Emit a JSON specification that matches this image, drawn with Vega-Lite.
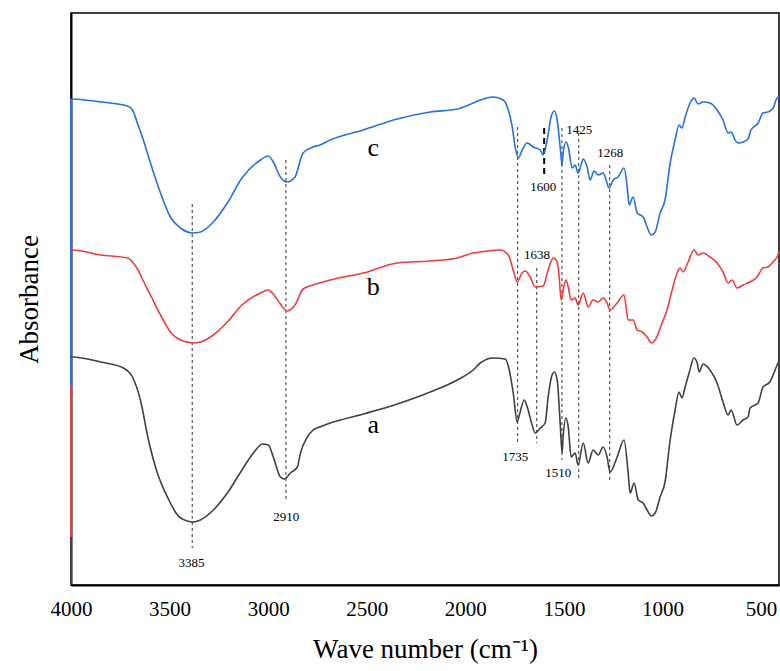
{
  "$schema": "https://vega.github.io/schema/vega-lite/v6.json",
  "width": 708,
  "height": 572,
  "autosize": {"type": "none"},
  "padding": {"left": 71, "top": 13, "right": 1, "bottom": 86},
  "config": {
    "view": {"stroke": "black", "strokeWidth": 1.5},
    "font": "Liberation Serif",
    "axis": {"labelFont": "Liberation Serif", "titleFont": "Liberation Serif", "titleFontWeight": "normal", "grid": false, "labelColor": "black", "titleColor": "black"}
  },
  "datasets": {
    "spectra": [
      {"s":"c","w":4000,"v":486},{"s":"c","w":3994,"v":486},{"s":"c","w":3850,"v":483},{"s":"c","w":3714,"v":479},{"s":"c","w":3688,"v":475},{"s":"c","w":3660,"v":460},{"s":"c","w":3638,"v":448},{"s":"c","w":3597,"v":422},{"s":"c","w":3546,"v":392},{"s":"c","w":3496,"v":368},{"s":"c","w":3445,"v":357},{"s":"c","w":3380,"v":352},{"s":"c","w":3344,"v":353},{"s":"c","w":3278,"v":363},{"s":"c","w":3207,"v":382},{"s":"c","w":3133,"v":407},{"s":"c","w":3039,"v":425},{"s":"c","w":2999,"v":429},{"s":"c","w":2974,"v":423},{"s":"c","w":2938,"v":408},{"s":"c","w":2904,"v":403},{"s":"c","w":2864,"v":408},{"s":"c","w":2823,"v":432},{"s":"c","w":2772,"v":438},{"s":"c","w":2738,"v":440},{"s":"c","w":2685,"v":445},{"s":"c","w":2517,"v":455},{"s":"c","w":2345,"v":466},{"s":"c","w":2178,"v":473},{"s":"c","w":2041,"v":476},{"s":"c","w":1960,"v":482},{"s":"c","w":1924,"v":485},{"s":"c","w":1858,"v":488},{"s":"c","w":1808,"v":485},{"s":"c","w":1782,"v":475},{"s":"c","w":1762,"v":458},{"s":"c","w":1747,"v":438},{"s":"c","w":1731,"v":427},{"s":"c","w":1712,"v":435},{"s":"c","w":1686,"v":442},{"s":"c","w":1656,"v":438},{"s":"c","w":1620,"v":435},{"s":"c","w":1605,"v":430},{"s":"c","w":1585,"v":445},{"s":"c","w":1565,"v":468},{"s":"c","w":1549,"v":474},{"s":"c","w":1534,"v":465},{"s":"c","w":1519,"v":438},{"s":"c","w":1509,"v":420},{"s":"c","w":1504,"v":432},{"s":"c","w":1489,"v":443},{"s":"c","w":1478,"v":438},{"s":"c","w":1458,"v":417},{"s":"c","w":1443,"v":420},{"s":"c","w":1428,"v":412},{"s":"c","w":1413,"v":420},{"s":"c","w":1402,"v":426},{"s":"c","w":1382,"v":418},{"s":"c","w":1367,"v":405},{"s":"c","w":1347,"v":414},{"s":"c","w":1326,"v":410},{"s":"c","w":1301,"v":412},{"s":"c","w":1286,"v":405},{"s":"c","w":1271,"v":397},{"s":"c","w":1250,"v":405},{"s":"c","w":1225,"v":408},{"s":"c","w":1195,"v":417},{"s":"c","w":1179,"v":398},{"s":"c","w":1169,"v":380},{"s":"c","w":1149,"v":388},{"s":"c","w":1128,"v":372},{"s":"c","w":1113,"v":370},{"s":"c","w":1098,"v":368},{"s":"c","w":1078,"v":358},{"s":"c","w":1057,"v":350},{"s":"c","w":1037,"v":353},{"s":"c","w":1012,"v":372},{"s":"c","w":987,"v":385},{"s":"c","w":961,"v":422},{"s":"c","w":936,"v":445},{"s":"c","w":916,"v":460},{"s":"c","w":901,"v":457},{"s":"c","w":885,"v":468},{"s":"c","w":860,"v":482},{"s":"c","w":840,"v":487},{"s":"c","w":819,"v":481},{"s":"c","w":794,"v":483},{"s":"c","w":759,"v":482},{"s":"c","w":723,"v":475},{"s":"c","w":693,"v":465},{"s":"c","w":667,"v":452},{"s":"c","w":652,"v":453},{"s":"c","w":632,"v":445},{"s":"c","w":617,"v":442},{"s":"c","w":591,"v":443},{"s":"c","w":566,"v":446},{"s":"c","w":551,"v":455},{"s":"c","w":515,"v":462},{"s":"c","w":490,"v":472},{"s":"c","w":465,"v":473},{"s":"c","w":439,"v":477},{"s":"c","w":419,"v":487},{"s":"c","w":409,"v":488},
      {"s":"b","w":4000,"v":335},{"s":"b","w":3992,"v":335},{"s":"b","w":3850,"v":330},{"s":"b","w":3714,"v":327},{"s":"b","w":3688,"v":323},{"s":"b","w":3660,"v":315},{"s":"b","w":3638,"v":306},{"s":"b","w":3597,"v":290},{"s":"b","w":3546,"v":270},{"s":"b","w":3496,"v":253},{"s":"b","w":3445,"v":245},{"s":"b","w":3380,"v":242},{"s":"b","w":3344,"v":243},{"s":"b","w":3278,"v":250},{"s":"b","w":3207,"v":263},{"s":"b","w":3133,"v":280},{"s":"b","w":3039,"v":292},{"s":"b","w":2999,"v":295},{"s":"b","w":2974,"v":291},{"s":"b","w":2938,"v":281},{"s":"b","w":2904,"v":274},{"s":"b","w":2864,"v":280},{"s":"b","w":2823,"v":296},{"s":"b","w":2772,"v":300},{"s":"b","w":2738,"v":302},{"s":"b","w":2685,"v":305},{"s":"b","w":2517,"v":312},{"s":"b","w":2345,"v":322},{"s":"b","w":2178,"v":324},{"s":"b","w":2041,"v":327},{"s":"b","w":1960,"v":332},{"s":"b","w":1924,"v":333},{"s":"b","w":1823,"v":335},{"s":"b","w":1782,"v":330},{"s":"b","w":1757,"v":315},{"s":"b","w":1737,"v":303},{"s":"b","w":1712,"v":312},{"s":"b","w":1696,"v":314},{"s":"b","w":1671,"v":308},{"s":"b","w":1646,"v":298},{"s":"b","w":1605,"v":299},{"s":"b","w":1580,"v":315},{"s":"b","w":1554,"v":327},{"s":"b","w":1534,"v":323},{"s":"b","w":1524,"v":308},{"s":"b","w":1514,"v":285},{"s":"b","w":1504,"v":295},{"s":"b","w":1489,"v":305},{"s":"b","w":1478,"v":298},{"s":"b","w":1463,"v":285},{"s":"b","w":1443,"v":287},{"s":"b","w":1428,"v":280},{"s":"b","w":1402,"v":292},{"s":"b","w":1377,"v":278},{"s":"b","w":1352,"v":285},{"s":"b","w":1326,"v":283},{"s":"b","w":1301,"v":287},{"s":"b","w":1281,"v":282},{"s":"b","w":1266,"v":275},{"s":"b","w":1230,"v":282},{"s":"b","w":1195,"v":290},{"s":"b","w":1174,"v":265},{"s":"b","w":1149,"v":265},{"s":"b","w":1128,"v":255},{"s":"b","w":1103,"v":253},{"s":"b","w":1078,"v":248},{"s":"b","w":1057,"v":242},{"s":"b","w":1037,"v":245},{"s":"b","w":1002,"v":262},{"s":"b","w":977,"v":275},{"s":"b","w":951,"v":295},{"s":"b","w":926,"v":312},{"s":"b","w":911,"v":317},{"s":"b","w":895,"v":313},{"s":"b","w":870,"v":323},{"s":"b","w":840,"v":335},{"s":"b","w":819,"v":330},{"s":"b","w":794,"v":332},{"s":"b","w":759,"v":328},{"s":"b","w":723,"v":322},{"s":"b","w":693,"v":313},{"s":"b","w":667,"v":302},{"s":"b","w":647,"v":305},{"s":"b","w":622,"v":297},{"s":"b","w":591,"v":300},{"s":"b","w":556,"v":303},{"s":"b","w":520,"v":308},{"s":"b","w":490,"v":317},{"s":"b","w":465,"v":318},{"s":"b","w":439,"v":323},{"s":"b","w":414,"v":330},{"s":"b","w":409,"v":333},
      {"s":"a","w":4000,"v":228},{"s":"a","w":3992,"v":228},{"s":"a","w":3850,"v":223},{"s":"a","w":3734,"v":217},{"s":"a","w":3688,"v":208},{"s":"a","w":3648,"v":185},{"s":"a","w":3607,"v":145},{"s":"a","w":3562,"v":112},{"s":"a","w":3511,"v":88},{"s":"a","w":3460,"v":70},{"s":"a","w":3411,"v":64},{"s":"a","w":3379,"v":63},{"s":"a","w":3344,"v":65},{"s":"a","w":3278,"v":75},{"s":"a","w":3207,"v":92},{"s":"a","w":3133,"v":115},{"s":"a","w":3075,"v":132},{"s":"a","w":3029,"v":141},{"s":"a","w":2999,"v":140},{"s":"a","w":2974,"v":128},{"s":"a","w":2938,"v":108},{"s":"a","w":2918,"v":106},{"s":"a","w":2887,"v":112},{"s":"a","w":2852,"v":118},{"s":"a","w":2836,"v":132},{"s":"a","w":2801,"v":148},{"s":"a","w":2772,"v":155},{"s":"a","w":2738,"v":158},{"s":"a","w":2685,"v":162},{"s":"a","w":2517,"v":171},{"s":"a","w":2345,"v":181},{"s":"a","w":2178,"v":193},{"s":"a","w":2041,"v":205},{"s":"a","w":1960,"v":215},{"s":"a","w":1924,"v":222},{"s":"a","w":1858,"v":227},{"s":"a","w":1798,"v":226},{"s":"a","w":1777,"v":215},{"s":"a","w":1757,"v":192},{"s":"a","w":1737,"v":163},{"s":"a","w":1726,"v":170},{"s":"a","w":1701,"v":185},{"s":"a","w":1686,"v":178},{"s":"a","w":1661,"v":160},{"s":"a","w":1646,"v":152},{"s":"a","w":1620,"v":157},{"s":"a","w":1595,"v":162},{"s":"a","w":1580,"v":188},{"s":"a","w":1560,"v":210},{"s":"a","w":1549,"v":213},{"s":"a","w":1534,"v":205},{"s":"a","w":1519,"v":162},{"s":"a","w":1509,"v":132},{"s":"a","w":1504,"v":148},{"s":"a","w":1489,"v":167},{"s":"a","w":1478,"v":158},{"s":"a","w":1463,"v":128},{"s":"a","w":1443,"v":132},{"s":"a","w":1428,"v":120},{"s":"a","w":1402,"v":142},{"s":"a","w":1377,"v":122},{"s":"a","w":1352,"v":135},{"s":"a","w":1326,"v":130},{"s":"a","w":1301,"v":138},{"s":"a","w":1281,"v":128},{"s":"a","w":1266,"v":113},{"s":"a","w":1230,"v":128},{"s":"a","w":1195,"v":145},{"s":"a","w":1174,"v":112},{"s":"a","w":1164,"v":92},{"s":"a","w":1144,"v":102},{"s":"a","w":1123,"v":85},{"s":"a","w":1098,"v":82},{"s":"a","w":1078,"v":75},{"s":"a","w":1057,"v":69},{"s":"a","w":1037,"v":72},{"s":"a","w":1012,"v":88},{"s":"a","w":987,"v":103},{"s":"a","w":961,"v":145},{"s":"a","w":936,"v":175},{"s":"a","w":916,"v":193},{"s":"a","w":901,"v":187},{"s":"a","w":885,"v":198},{"s":"a","w":865,"v":212},{"s":"a","w":840,"v":227},{"s":"a","w":824,"v":222},{"s":"a","w":814,"v":213},{"s":"a","w":794,"v":221},{"s":"a","w":759,"v":215},{"s":"a","w":723,"v":202},{"s":"a","w":693,"v":183},{"s":"a","w":667,"v":170},{"s":"a","w":652,"v":175},{"s":"a","w":622,"v":160},{"s":"a","w":591,"v":165},{"s":"a","w":566,"v":168},{"s":"a","w":556,"v":177},{"s":"a","w":515,"v":182},{"s":"a","w":490,"v":198},{"s":"a","w":455,"v":203},{"s":"a","w":439,"v":210},{"s":"a","w":414,"v":222},{"s":"a","w":409,"v":224}
    ],
    "drops": [
      {"s":"a","w":4000,"top":228,"bottom":0},
      {"s":"b","w":4000,"top":335,"bottom":48},
      {"s":"c","w":4000,"top":486,"bottom":200}
    ],
    "guides": [
      {"w":3385,"top":381,"bottom":37,"kind":"thin"},
      {"w":2910,"top":425,"bottom":85,"kind":"thin"},
      {"w":1735,"top":458,"bottom":142,"kind":"thin"},
      {"w":1638,"top":317,"bottom":142,"kind":"thin"},
      {"w":1510,"top":457,"bottom":125,"kind":"thin"},
      {"w":1425,"top":452,"bottom":105,"kind":"thin"},
      {"w":1268,"top":420,"bottom":103,"kind":"thin"},
      {"w":1600,"top":457,"bottom":408,"kind":"thick"}
    ],
    "peaks": [
      {"w":3389,"v":22,"t":"3385"},
      {"w":2908,"v":68,"t":"2910"},
      {"w":1747,"v":128,"t":"1735"},
      {"w":1636,"v":330,"t":"1638"},
      {"w":1605,"v":398,"t":"1600"},
      {"w":1529,"v":112,"t":"1510"},
      {"w":1422,"v":455,"t":"1425"},
      {"w":1265,"v":432,"t":"1268"}
    ],
    "names": [
      {"w":2467,"v":437,"t":"c"},
      {"w":2467,"v":298,"t":"b"},
      {"w":2467,"v":160,"t":"a"}
    ]
  },
  "layer": [
    {
      "data": {"name": "guides"},
      "transform": [{"filter": "datum.kind === 'thin'"}],
      "mark": {"type": "rule", "color": "#555555", "strokeWidth": 1.2, "strokeDash": [3, 3]},
      "encoding": {
        "x": {"field": "w", "type": "quantitative", "scale": {"domain": [409, 4000], "reverse": true, "nice": false, "zero": false}, "axis": {"title": "Wave number (cm⁻¹)", "values": [4000, 3500, 3000, 2500, 2000, 1500, 1000, 500], "format": "d", "ticks": false, "labelFontSize": 21, "labelPadding": 13, "titleFontSize": 27, "titlePadding": 17, "domainColor": "black", "domainWidth": 2, "labelFlush": false}},
        "y": {"field": "top", "type": "quantitative", "scale": {"domain": [0, 572], "nice": false, "zero": false}, "axis": {"title": "Absorbance", "labels": false, "ticks": false, "titleFontSize": 27, "titlePadding": 28, "domainColor": "black", "domainWidth": 2}},
        "y2": {"field": "bottom"}
      }
    },
    {
      "data": {"name": "guides"},
      "transform": [{"filter": "datum.kind === 'thick'"}],
      "mark": {"type": "rule", "color": "black", "strokeWidth": 2, "strokeDash": [6, 4]},
      "encoding": {
        "x": {"field": "w", "type": "quantitative"},
        "y": {"field": "top", "type": "quantitative"},
        "y2": {"field": "bottom"}
      }
    },
    {
      "data": {"name": "drops"},
      "mark": {"type": "rule", "strokeWidth": 2},
      "encoding": {
        "x": {"field": "w", "type": "quantitative"},
        "y": {"field": "top", "type": "quantitative"},
        "y2": {"field": "bottom"},
        "color": {"field": "s", "type": "nominal", "scale": {"domain": ["a", "b", "c"], "range": ["#404040", "#ee3b3b", "#2472dc"]}, "legend": null},
        "order": {"field": "s"}
      }
    },
    {
      "data": {"name": "spectra"},
      "transform": [{"filter": "datum.s === 'a'"}],
      "mark": {"type": "line", "color": "#404040", "strokeWidth": 1.6, "interpolate": "monotone"},
      "encoding": {
        "x": {"field": "w", "type": "quantitative"},
        "y": {"field": "v", "type": "quantitative"}
      }
    },
    {
      "data": {"name": "spectra"},
      "transform": [{"filter": "datum.s === 'b'"}],
      "mark": {"type": "line", "color": "#ee3b3b", "strokeWidth": 1.6, "interpolate": "monotone"},
      "encoding": {
        "x": {"field": "w", "type": "quantitative"},
        "y": {"field": "v", "type": "quantitative"}
      }
    },
    {
      "data": {"name": "spectra"},
      "transform": [{"filter": "datum.s === 'c'"}],
      "mark": {"type": "line", "color": "#2472dc", "strokeWidth": 1.6, "interpolate": "monotone"},
      "encoding": {
        "x": {"field": "w", "type": "quantitative"},
        "y": {"field": "v", "type": "quantitative"}
      }
    },
    {
      "data": {"name": "peaks"},
      "mark": {"type": "text", "font": "Liberation Serif", "fontSize": 13, "color": "black"},
      "encoding": {
        "x": {"field": "w", "type": "quantitative"},
        "y": {"field": "v", "type": "quantitative"},
        "text": {"field": "t"}
      }
    },
    {
      "data": {"name": "names"},
      "mark": {"type": "text", "font": "Liberation Serif", "fontSize": 26, "color": "black"},
      "encoding": {
        "x": {"field": "w", "type": "quantitative"},
        "y": {"field": "v", "type": "quantitative"},
        "text": {"field": "t"}
      }
    }
  ]
}
